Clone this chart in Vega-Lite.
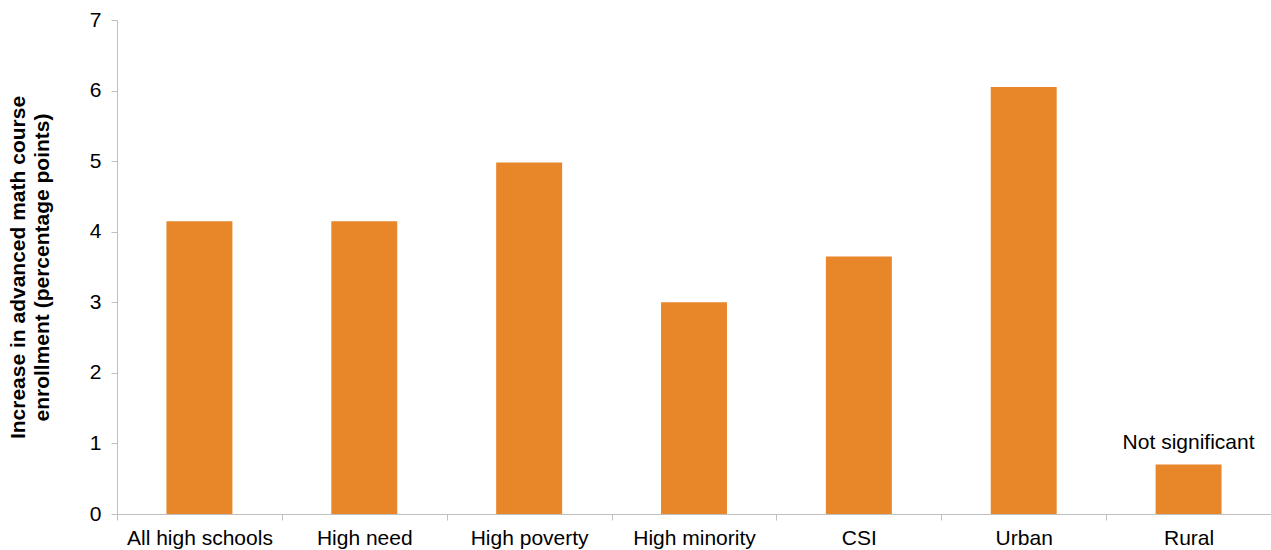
{
  "$schema": "https://vega.github.io/schema/vega-lite/v6.json",
  "autosize": {"type": "none"},
  "padding": {"left": 117, "top": 20, "right": 0, "bottom": 36},
  "width": 1154,
  "height": 494,
  "config": {"view": {"stroke": null}, "font": "Liberation Sans"},
  "data": {"values": [
    {"group": "All high schools", "value": 4.15, "note": ""},
    {"group": "High need", "value": 4.15, "note": ""},
    {"group": "High poverty", "value": 4.98, "note": ""},
    {"group": "High minority", "value": 3.0, "note": ""},
    {"group": "CSI", "value": 3.65, "note": ""},
    {"group": "Urban", "value": 6.05, "note": ""},
    {"group": "Rural", "value": 0.7, "note": "Not significant"}
  ]},
  "encoding": {
    "x": {"field": "group", "type": "nominal", "sort": null,
      "scale": {"paddingInner": 0, "paddingOuter": 0},
      "axis": {"title": null, "labelAngle": 0, "tickBand": "extent", "domainColor": "#BFBFBF", "tickColor": "#BFBFBF", "tickSize": 6, "labelFontSize": 21, "labelColor": "#000000", "labelPadding": 7, "grid": false}},
    "y": {"field": "value", "type": "quantitative",
      "scale": {"domain": [0, 7], "nice": false},
      "axis": {"values": [0,1,2,3,4,5,6,7], "title": ["Increase in advanced math course", "enrollment (percentage points)"], "titleFontSize": 21, "titleLineHeight": 24, "titleFontWeight": "bold", "titleColor": "#000000", "titlePadding": 37, "domainColor": "#BFBFBF", "tickColor": "#BFBFBF", "tickSize": 6, "labelFontSize": 21, "labelColor": "#000000", "labelPadding": 10, "grid": false}}
  },
  "layer": [
    {"mark": {"type": "bar", "color": "#E8862A", "width": {"band": 0.4}}},
    {"mark": {"type": "text", "baseline": "bottom", "dy": -12, "fontSize": 21, "color": "#000000"},
     "encoding": {"text": {"field": "note"}}}
  ]
}
